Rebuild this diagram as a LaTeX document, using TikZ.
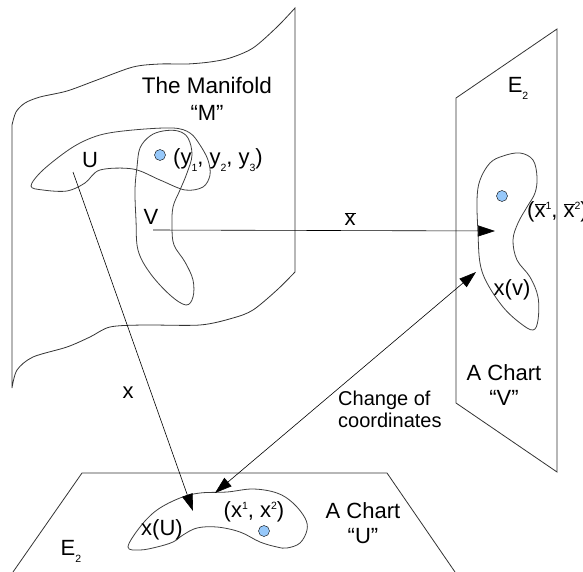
\documentclass[tikz,border=0pt]{standalone}
\usepackage{fontspec}
\setmainfont{Liberation Sans}
\usetikzlibrary{arrows.meta}
\definecolor{dotblue}{RGB}{150,200,250}
\newcommand\lo[1]{\raisebox{-7pt}{\fontsize{10.5}{10.5}\selectfont #1}}
\newcommand\hi[1]{\raisebox{8.5pt}{\fontsize{10.5}{10.5}\selectfont #1}}
\newcommand\xb{$\overline{\mbox{x}}$}
\tikzset{
  lbl/.style={font=\fontsize{22}{25}\selectfont, inner sep=0pt},
  sheet/.style={draw=black!80, line width=0.8pt},
  blob/.style={draw=black!75, line width=0.8pt},
  pt/.style={circle, draw, fill=dotblue, minimum size=11pt, inner sep=0pt},
  map/.style={line width=0.6pt, -{Triangle[length=17pt,width=11pt]}},
}

\begin{document}
\begin{tikzpicture}[x=1pt,y=-1pt]
  \useasboundingbox (0,0) rectangle (583,572);
  % the manifold
  \draw[sheet] (12,388) -- (12,125)
    plot[smooth] coordinates {(12,125) (16,112) (25,103) (40,97) (67,91) (97,80) (133,67)
      (160,64) (187,64) (210,62) (230,58) (253,48) (277,27) (295,8)}
    -- (295,272)
    plot[smooth] coordinates {(295,272) (277,290) (253,310) (233,318) (200,325) (143,325)
      (110,327) (90,337) (67,347) (33,357) (17,370) (12,388)};
  \draw[blob] plot[smooth cycle, tension=0.55] coordinates {(31,186) (43,170) (73,147) (100,135)
    (133,130) (173,128) (190,133) (200,145) (208,160) (210,175) (203,187) (185,190) (160,180)
    (133,169) (100,170) (85,183) (67,191) (43,190)};
  \draw[blob] plot[smooth cycle, tension=0.6] coordinates {(137,167) (140,148) (150,136) (163,131)
    (178,131) (188,138) (192,155) (187,173) (180,190) (173,207) (172,227) (174,245) (185,262)
    (193,280) (193,297) (186,305) (170,295) (150,273) (138,250) (136,220) (135,190)};
  \node[lbl, font=\fontsize{22.5}{25}\selectfont] (title) at (207,85) {The Manifold};
  \node[lbl] (mname) at (207,113) {“M”};
  \node[lbl] (U) at (90,160) {U};
  \node[lbl] (V) at (151,217) {V};
  \node[pt] (py) at (160,155) {};
  \node[lbl, anchor=west] (ycoord) at (173,160) {(y\lo{1}, y\lo{2}, y\lo{3})};
  \coordinate (fromU) at (73,172);
  \coordinate (fromV) at (153,230);
  % chart V
  \draw[sheet] (456,98) -- (557,29) -- (557,472) -- (456,403) -- cycle;
  \draw[blob] plot[smooth cycle, tension=0.6] coordinates {(503,156) (520,153) (533,160) (537,177)
    (535,193) (527,207) (518,223) (513,240) (517,260) (530,277) (538,297) (538,320) (533,330)
    (520,323) (503,307) (487,283) (480,263) (478,233) (477,200) (480,180) (490,163)};
  \node[lbl] (EV) at (518,88) {E\lo{2}};
  \node[pt] (pxb) at (502,196) {};
  \node[lbl, anchor=west] (xbcoord) at (527,212) {(\xb\hi{1}, \xb\hi{2})};
  \node[lbl] (xv) at (512,290) {x(v)};
  \node[lbl, align=center] (chartV) at (504,385) {A Chart\\“V”};
  \coordinate (toV) at (495,231);
  \coordinate (cV) at (476,272);
  % chart U
  \draw[sheet] (13,572) -- (82,473) -- (387,473) -- (455,572);
  \draw[blob] plot[smooth cycle, tension=0.6] coordinates {(128,547) (140,527) (157,510) (180,498)
    (200,493) (227,492) (253,489) (277,493) (293,503) (305,518) (307,530) (300,543) (287,548)
    (277,547) (260,542) (240,532) (217,527) (197,528) (183,535) (173,542) (157,547) (140,550)};
  \node[lbl] (E) at (71,551) {E\lo{2}};
  \node[lbl] (xU) at (162,530) {x(U)};
  \node[lbl] (xcoord) at (254,512) {(x\hi{1}, x\hi{2})};
  \node[pt] (px) at (264,531) {};
  \node[lbl, align=center] (chartU) at (363,523) {A Chart\\“U”};
  \coordinate (toU) at (193,511);
  \coordinate (cU) at (215,493);
  % maps
  \draw[map] (fromV) -- (toV);
  \node[lbl] (xbar) at (350,219) {\xb};
  \draw[map] (fromU) -- (toU);
  \node[lbl] (x) at (128,393) {x};
  \draw[map, {Triangle[length=17pt,width=11pt]}-{Triangle[length=17pt,width=11pt]}] (cU) -- (cV);
  \node[lbl, font=\fontsize{20}{22}\selectfont, align=left, anchor=west] (change) at (338,409)
    {Change of\\coordinates};
\end{tikzpicture}
\end{document}
